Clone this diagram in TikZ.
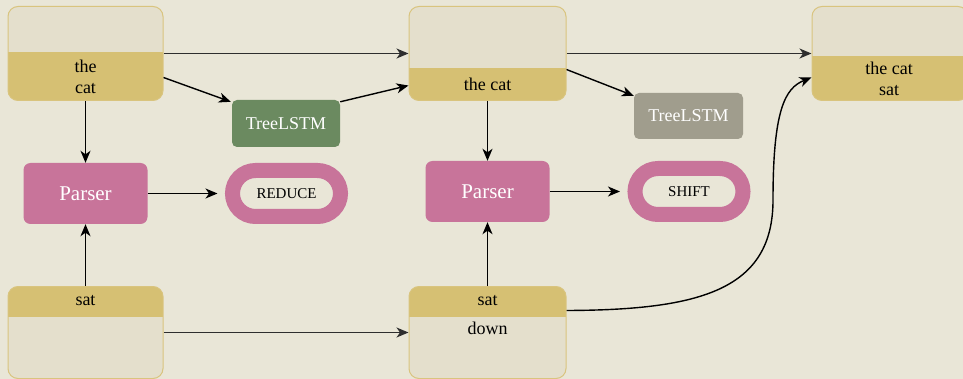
\documentclass[tikz,border=0pt]{standalone}
\usepackage{fontspec}
\setmainfont{Liberation Serif}
\newfontfamily\serifx{Liberation Serif}
\usetikzlibrary{arrows.meta}
\definecolor{bgc}{HTML}{E9E6D7}
\definecolor{lightc}{HTML}{E4DFCC}
\definecolor{goldc}{HTML}{D6C073}
\definecolor{borderc}{HTML}{D9C47E}
\definecolor{pinkc}{HTML}{C8749A}
\definecolor{greenc}{HTML}{6B8A60}
\definecolor{grayc}{HTML}{A09D8D}
\definecolor{linec}{HTML}{2E2E2E}
\tikzset{
  statebox/.style={draw=borderc, line width=1pt, fill=lightc, rounded corners=10pt, inner sep=0pt},
  goldbottom/.style={path picture={\fill[goldc, sharp corners] (path picture bounding box.south west) rectangle ([yshift=#1]path picture bounding box.south east);}},
  goldtop/.style={path picture={\fill[goldc, sharp corners] (path picture bounding box.north west) rectangle ([yshift=-#1]path picture bounding box.north east);}},
  txt/.style={font=\serifx\fontsize{18}{21}\selectfont, text=black, align=center, inner sep=0pt},
  parserbox/.style={fill=pinkc, rounded corners=7pt, minimum width=124pt, minimum height=61pt, font=\serifx\fontsize{21}{24}\selectfont, text=white, inner sep=0pt},
  treebox/.style={rounded corners=5pt, minimum width=108pt, minimum height=47pt, font=\serifx\fontsize{18}{20}\selectfont, text=white, inner sep=0pt},
  action/.style={draw=pinkc, line width=15pt, fill=bgc, rounded corners=23pt, minimum width=108pt, minimum height=46pt, font=\serifx\fontsize{15}{17}\selectfont, text=black, inner sep=0pt},
  arr/.style={draw=black, line width=1.4pt, -{Stealth[length=12pt,width=10pt,inset=3.5pt]}},
}
\begin{document}
\begin{tikzpicture}[x=1pt,y=-1pt]
\useasboundingbox (0,0) rectangle (963,379);
\clip (0,0) rectangle (963,379);
\fill[bgc] (0,0) rectangle (963,379);

% state boxes
\node[statebox, goldbottom=48pt, minimum width=155pt, minimum height=94pt] (b1) at (85.5,53.5) {};
\node[statebox, goldbottom=32pt, minimum width=157pt, minimum height=94pt] (b2) at (487.5,53.5) {};
\node[statebox, goldbottom=44pt, minimum width=156pt, minimum height=94pt] (b3) at (890,53.5) {};
\node[statebox, goldtop=30pt, minimum width=155pt, minimum height=92pt] (bb1) at (85.5,332.5) {};
\node[statebox, goldtop=30pt, minimum width=157pt, minimum height=92pt] (bb2) at (487.5,332.5) {};

% texts
\node[txt] (t1) at (85.5,77) {the\\cat};
\node[txt] (t2) at (487.5,84) {the cat};
\node[txt] (t3) at (889,78.5) {the cat\\sat};
\node[txt] (t4) at (85.5,301) {sat};
\node[txt] (t5) at (487.5,301) {sat};
\node[txt] (t6) at (487.5,328) {down};

% TreeLSTMs
\node[treebox, fill=greenc] (tl1) at (286,123.5) {TreeLSTM};
\node[treebox, fill=grayc, minimum width=109pt, minimum height=46pt] (tl2) at (688.5,116) {TreeLSTM};

% parsers
\node[parserbox] (p1) at (85.5,193.5) {Parser};
\node[parserbox] (p2) at (487.5,191.5) {Parser};

% actions
\node[action] (r1) at (286.5,193.5) {REDUCE};
\node[action] (s1) at (689,191.5) {SHIFT};

% connectors
\draw[arr, draw=linec] (b1.east) -- (b2.west);
\draw[arr, draw=linec] (b2.east) -- (b3.west);
\draw[arr] ([yshift=-24pt]b1.east) -- ([xshift=-1pt,yshift=-2pt]tl1.north west);
\draw[arr] ([yshift=-2pt]tl1.north east) -- ([yshift=-32pt]b2.west);
\draw[arr] ([yshift=-16pt]b2.east) -- ([yshift=-3pt]tl2.north west);
\draw[arr] (b1.south) -- (p1.north);
\draw[arr] (bb1.north) -- (p1.south);
\draw[arr] (b2.south) -- (p2.north);
\draw[arr] (bb2.north) -- (p2.south);
\draw[arr] (p1.east) -- ([xshift=-7.5pt]r1.west);
\draw[arr] (p2.east) -- ([xshift=-7.5pt]s1.west);
\draw[arr, draw=linec] (bb1.east) -- (bb2.west);
\coordinate (cmid) at (773,200);
\draw[arr] ([yshift=22pt]bb2.east) .. controls (700,310) and (773,290) .. (cmid)
  .. controls (773,110) and (785,88) .. ([yshift=-24pt]b3.west);
\end{tikzpicture}
\end{document}
